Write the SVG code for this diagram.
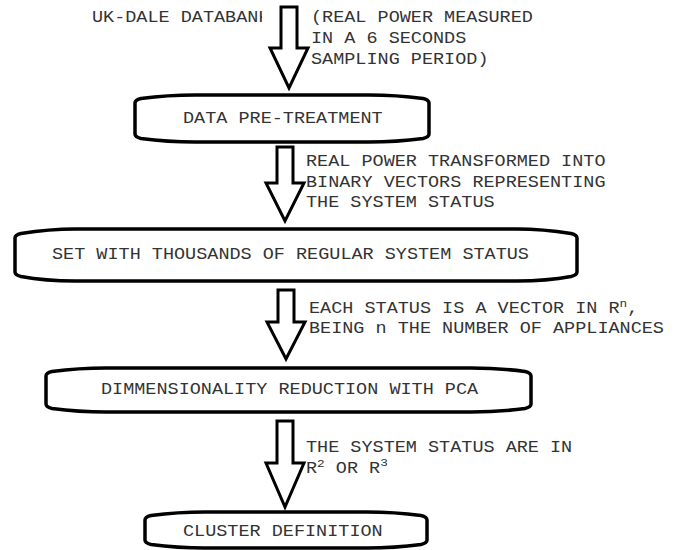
<svg xmlns="http://www.w3.org/2000/svg" width="687" height="550" viewBox="0 0 687 550">
  <style>
    .box { fill: #ffffff; stroke: #000000; stroke-width: 3.5; stroke-linejoin: round; }
    .arrow { fill: #ffffff; stroke: #000000; stroke-width: 3; stroke-linejoin: miter; }
    .t { font-family: "Liberation Mono", "DejaVu Sans Mono", monospace; font-size: 16px; fill: #333333; }
    .sup { font-size: 11px; }
  </style>
  <defs>
    <clipPath id="clipSource">
      <rect x="0" y="0" width="262" height="40"/>
    </clipPath>
  </defs>
  <rect width="687" height="550" fill="#ffffff"/>

  <!-- block arrows between the stages -->
  <g id="connectors">
    <polygon class="arrow" points="281,7 297,7 297,48 308,48 289,88 270,48 281,48"/>
    <polygon class="arrow" points="277,147 293,147 293,183 304,183 285,221 266,183 277,183"/>
    <polygon class="arrow" points="278,290 294,290 294,322 305,322 286,359 267,322 278,322"/>
    <polygon class="arrow" points="277,421 293,421 293,463 304,463 285,507 266,463 277,463"/>
  </g>

  <!-- source label and arrow notes -->
  <g id="source">
    <g clip-path="url(#clipSource)">
      <text class="t" transform="translate(92,22) scale(1.156,1)">UK-DALE DATABANK</text>
    </g>
  </g>
  <g id="note-sampling">
    <text class="t" transform="translate(311,22) scale(1.156,1)">(REAL POWER MEASURED</text>
    <text class="t" transform="translate(311,43) scale(1.156,1)">IN A 6 SECONDS</text>
    <text class="t" transform="translate(311,64) scale(1.156,1)">SAMPLING PERIOD)</text>
  </g>

  <g id="pretreatment">
    <path class="box" d="M135,103 Q135,100 141,98.5 C160,96 175,95 195,95 H369 C389,95 404,96 423,98.5 Q429,100 429,103 V134 Q429,137 423,138.5 C404,141 389,142 369,142 H195 C175,142 160,141 141,138.5 Q135,137 135,134 Z"/>
    <text class="t" transform="translate(183,123) scale(1.156,1)">DATA PRE-TREATMENT</text>
  </g>

  <g id="note-binary">
    <text class="t" transform="translate(306,166) scale(1.156,1)">REAL POWER TRANSFORMED INTO</text>
    <text class="t" transform="translate(306,187) scale(1.156,1)">BINARY VECTORS REPRESENTING</text>
    <text class="t" transform="translate(306,207) scale(1.156,1)">THE SYSTEM STATUS</text>
  </g>

  <g id="status-set">
    <path class="box" d="M15,238 Q15,235 21,233.5 C40,230.5 55,229 75,229 H517 C537,229 552,230.5 571,233.5 Q577,235 577,238 V272 Q577,275 571,276.5 C552,280 537,281 517,281 H75 C55,281 40,280 21,276.5 Q15,275 15,272 Z"/>
    <text class="t" transform="translate(52,259) scale(1.156,1)">SET WITH THOUSANDS OF REGULAR SYSTEM STATUS</text>
  </g>

  <g id="note-vector">
    <text class="t" transform="translate(309,313) scale(1.156,1)">EACH STATUS IS A VECTOR IN R<tspan class="sup" dy="-6">n</tspan><tspan dy="6">,</tspan></text>
    <text class="t" transform="translate(309,333) scale(1.156,1)">BEING n THE NUMBER OF APPLIANCES</text>
  </g>

  <g id="pca">
    <path class="box" d="M46,376 Q46,373 52,371.5 C71,369 86,368 106,368 H471 C491,368 506,369 525,371.5 Q531,373 531,376 V404 Q531,407 525,408.5 C506,411 491,412 471,412 H106 C86,412 71,411 52,408.5 Q46,407 46,404 Z"/>
    <text class="t" transform="translate(101,394) scale(1.156,1)">DIMMENSIONALITY REDUCTION WITH PCA</text>
  </g>

  <g id="note-reduced">
    <text class="t" transform="translate(306,452) scale(1.156,1)">THE SYSTEM STATUS ARE IN</text>
    <text class="t" transform="translate(306,473) scale(1.156,1)">R<tspan class="sup" dy="-6">2</tspan><tspan dy="6"> OR R</tspan><tspan class="sup" dy="-7">3</tspan></text>
  </g>

  <g id="clusters">
    <path class="box" d="M145,520 Q145,517 151,515.5 C170,513 185,512 205,512 H367 C387,512 402,513 421,515.5 Q427,517 427,520 V540 Q427,543 421,544.5 C402,547 387,548 367,548 H205 C185,548 170,547 151,544.5 Q145,543 145,540 Z"/>
    <text class="t" transform="translate(183,536) scale(1.156,1)">CLUSTER DEFINITION</text>
  </g>
</svg>
